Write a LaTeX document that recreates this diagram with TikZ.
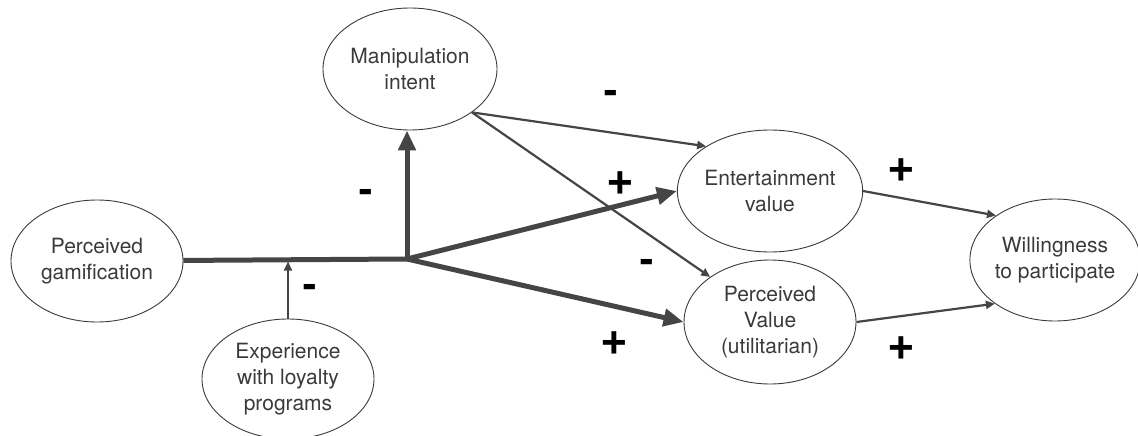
\documentclass[tikz,border=0pt]{standalone}
\usepackage{fontspec}
\setmainfont{TeX Gyre Heros}
\newfontfamily\signfont{Liberation Sans}
\usetikzlibrary{shapes.geometric,arrows.meta}
\definecolor{linegray}{HTML}{454545}
\definecolor{textgray}{HTML}{3A3A3A}

\begin{document}
\begin{tikzpicture}[x=1pt,y=-1pt,
	construct/.style={ellipse,draw=textgray,line width=0.9pt,inner sep=0pt,minimum width=172pt,minimum height=122pt,align=center,text=textgray,font=\fontsize{21}{26}\selectfont},
	heavy/.style={draw=linegray,line width=5pt},
	heavyarrow/.style={heavy,-{Triangle[length=20pt,width=17pt]}},
	lightarrow/.style={draw=linegray,line width=2.2pt,-{Triangle[length=9pt,width=8pt]}},
	sign/.style={inner sep=0pt,font=\signfont\bfseries\fontsize{44}{44}\selectfont}]
	\clip (0,0) rectangle (1138,436);
	\node[construct] (gamif) at (97,261) {Perceived\\gamification};
	\node[construct,minimum width=174pt] (manip) at (410,69) {Manipulation\\intent};
	\node[construct,minimum height=120pt] (exper) at (288,379) {Experience\\with loyalty\\programs};
	\node[construct] (enter) at (770,191) {Entertainment\\value};
	\node[construct,minimum height=124pt] (utilv) at (770,322) {Perceived\\Value\\(utilitarian)};
	\node[construct,minimum width=164pt] (willing) at (1055,260) {Willingness\\to participate};
	\coordinate (hub) at (407,259);
	\draw[heavy] (gamif) -- (hub);
	\draw[heavyarrow] (hub) -- (hub |- manip.south);
	\draw[heavyarrow] (hub) -- (enter.west);
	\draw[heavyarrow] (hub) -- (utilv.west);
	\draw[lightarrow,shorten >=2.5pt] (exper) -- (exper |- hub);
	\draw[lightarrow] (manip.-35) -- (enter.145);
	\draw[lightarrow] (manip.-35) -- (utilv.143);
	\draw[lightarrow] (enter.east) -- (willing.143);
	\draw[lightarrow] (utilv.east) -- (willing.216);
	\foreach \x/\y/\s [count=\i] in {611/97/-, 620/185/+, 647/266/-, 614/345/+, 901/172/+, 901/350/+, 366/196/-, 310/291/-}
		\node[sign] (sign\i) at (\x,\y) {\s};
\end{tikzpicture}
\end{document}
